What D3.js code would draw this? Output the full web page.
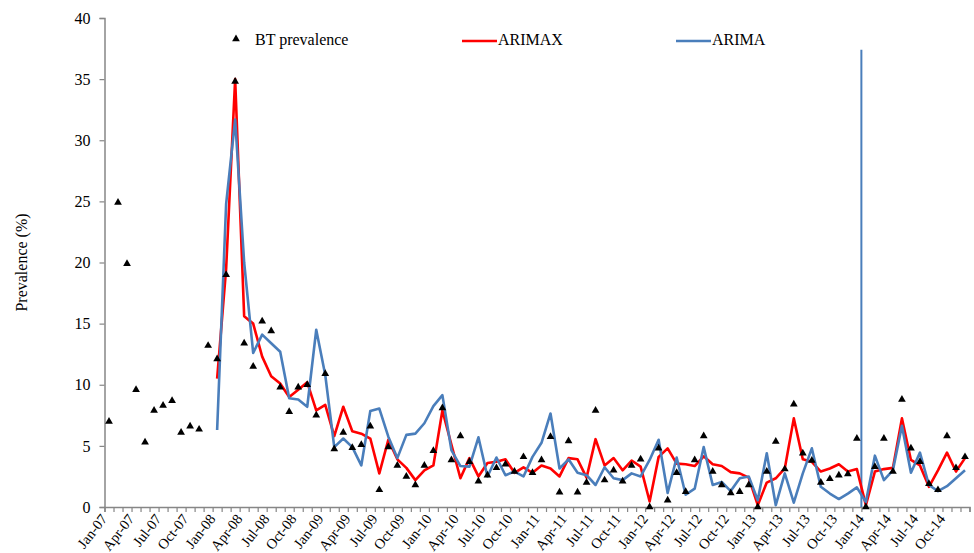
<!DOCTYPE html>
<html>
<head>
<meta charset="utf-8">
<script src="https://cdn.jsdelivr.net/npm/d3@7"></script>
<style>
html,body{margin:0;padding:0;background:#fff;}
svg{display:block;}
text{font-family:"Liberation Serif","Times New Roman",serif;fill:#000;}
</style>
</head>
<body>
<svg id="chart" width="974" height="553"></svg>
<script>
// ---- data ----
const monthNames = ["Jan","Feb","Mar","Apr","May","Jun","Jul","Aug","Sep","Oct","Nov","Dec"];
const years = ["07","08","09","10","11","12","13","14"];
const categories = [];
years.forEach(y => monthNames.forEach(m => categories.push(m + "-" + y)));
const tickLabels = categories.filter((c, i) => i % 3 === 0);

const prevalence = [
  7.0, 24.9, 19.9, 9.6, 5.3, 7.9, 8.3, 8.7, 6.1, 6.6, 6.35, 13.2,
  12.1, 19.0, 34.8, 13.4, 11.5, 15.2, 14.4, 9.8, 7.8, 9.8, 10.0, 7.5,
  10.9, 4.75, 6.1, 4.85, 5.1, 6.6, 1.4, 4.9, 3.4, 2.5, 1.8, 3.4,
  4.6, 8.1, 3.85, 5.8, 3.7, 2.1, 2.6, 3.2, 3.5, 2.9, 4.1, 2.8,
  3.85, 5.75, 1.2, 5.4, 1.2, 2.0, 7.9, 2.2, 3.0, 2.1, 3.4, 3.9,
  0.0, 4.8, 0.55, 2.8, 1.25, 3.85, 5.8, 2.9, 1.8, 1.15, 1.25, 1.8,
  0.0, 2.9, 5.35, 3.1, 8.4, 4.4, 3.8, 2.0, 2.3, 2.6, 2.7, 5.6,
  0.0, 3.3, 5.6, 2.9, 8.8, 4.8, 3.7, 1.9, 1.4, 5.8, 3.2, 4.1
];
const arimax = [
  null, null, null, null, null, null, null, null, null, null, null, null,
  10.5, 19.5, 35.0, 15.6, 15.0, 12.3, 10.7, 10.1, 9.0, 9.6, 10.2, 7.9,
  8.35, 5.8, 8.2, 6.2, 6.0, 5.6, 2.75, 5.5, 3.9, 3.2, 2.2, 3.0,
  3.4, 7.9, 5.1, 2.35, 4.0, 2.5, 3.6, 3.7, 3.9, 2.8, 3.25, 2.8,
  3.4, 3.15, 2.5, 4.0, 3.9, 2.4, 5.55, 3.4, 4.0, 3.0, 3.8, 3.3,
  0.45, 4.1, 4.8, 3.55, 3.5, 3.35, 4.15, 3.5, 3.35, 2.85, 2.75, 2.4,
  0.15, 2.0, 2.35, 3.15, 7.25, 3.9, 3.7, 2.9, 3.15, 3.5, 2.9, 3.1,
  0.15, 2.9, 3.1, 3.2, 7.25, 3.85, 3.4, 1.65, 3.0, 4.45, 2.9, 4.0
];
const arima = [
  null, null, null, null, null, null, null, null, null, null, null, null,
  6.3, 24.8, 31.7, 20.0, 12.6, 14.1, 13.4, 12.7, 8.9, 8.8, 8.2, 14.5,
  10.8, 4.9, 5.6, 4.9, 3.4, 7.85, 8.05, 5.75, 4.0, 5.9, 6.0, 6.85,
  8.25, 9.15, 4.65, 3.35, 3.3, 5.7, 2.5, 4.05, 2.6, 2.9, 2.5, 4.1,
  5.25, 7.65, 3.15, 3.9, 2.8, 2.6, 1.8, 3.25, 2.35, 2.2, 2.75, 2.5,
  3.85, 5.5, 1.15, 4.05, 1.0, 1.5, 4.9, 1.8, 2.05, 1.3, 2.35, 2.5,
  0.55, 4.4, 0.15, 2.75, 0.35, 2.75, 4.8, 1.65, 1.1, 0.65, 1.1, 1.6,
  0.4, 4.2, 2.2, 3.0, 6.65, 2.8, 4.45, 1.8, 1.3, 1.7, 2.35, 3.0
];
const yTicks = [0, 5, 10, 15, 20, 25, 30, 35, 40];
const splitAfter = "Dec-13";   // vertical divider between Dec-13 and Jan-14
const splitTop = 37.4;
const seriesNames = ["BT prevalence", "ARIMAX", "ARIMA"];

// ---- layout ----
const svg = d3.select("#chart");
const x0 = 104.5, x1 = 969.5, yBottom = 507, yTop = 18;
const RED = "#ff0000", BLUE = "#4a7ebb", AXIS = "#868686";

const x = d3.scaleBand().domain(categories).range([x0, x1]).padding(0);
const xc = c => x(c) + x.bandwidth() / 2;
const xIdx = d3.scaleLinear().domain([0, categories.length]).range([x0, x1]);
const y = d3.scaleLinear().domain([0, 40]).range([yBottom, yTop]);

// y axis
const yAxis = svg.append("g").attr("transform", `translate(${x0},0)`)
  .call(d3.axisLeft(y).tickValues(yTicks).tickSize(5).tickPadding(9).tickFormat(d3.format("d")));
yAxis.select(".domain").attr("stroke", AXIS).attr("stroke-width", 1.5);
yAxis.selectAll(".tick line").attr("stroke", AXIS).attr("stroke-width", 1.2);
yAxis.selectAll(".tick text").style("font-family", '"Liberation Serif",serif').style("font-size", "16px").attr("fill", "#000");

// x axis (ticks at category boundaries)
const xAxis = svg.append("g").attr("transform", `translate(0,${yBottom})`)
  .call(d3.axisBottom(xIdx).tickValues(d3.range(categories.length + 1)).tickSize(5).tickFormat(""));
xAxis.select(".domain").attr("stroke", AXIS).attr("stroke-width", 1.5);
xAxis.selectAll(".tick line").attr("stroke", AXIS).attr("stroke-width", 1.2);

// x labels
svg.append("g").selectAll("text").data(tickLabels).join("text")
  .attr("transform", d => `translate(${xc(d) - 1},${yBottom + 12}) rotate(-52)`)
  .attr("text-anchor", "end")
  .style("font-size", "14.5px")
  .text(d => d);

// y title
svg.append("text")
  .attr("transform", `translate(27,${(yTop + yBottom) / 2}) rotate(-90)`)
  .attr("text-anchor", "middle")
  .style("font-size", "16px")
  .text("Prevalence (%)");

// vertical divider
const splitX = x(splitAfter) + x.bandwidth();
svg.append("line")
  .attr("x1", splitX).attr("x2", splitX)
  .attr("y1", y(splitTop)).attr("y2", y(0))
  .attr("stroke", BLUE).attr("stroke-width", 2);

// lines
const line = d3.line()
  .defined(d => d.v !== null)
  .x(d => xc(d.c)).y(d => y(d.v));
const toPts = arr => categories.map((c, i) => ({c, v: arr[i]}));

svg.append("path").datum(toPts(arimax))
  .attr("d", line).attr("fill", "none").attr("stroke", RED)
  .attr("stroke-width", 2.6).attr("stroke-linejoin", "round");
svg.append("path").datum(toPts(arima))
  .attr("d", line).attr("fill", "none").attr("stroke", BLUE)
  .attr("stroke-width", 2.6).attr("stroke-linejoin", "round");

// triangles
const tri = d3.symbol().type(d3.symbolTriangle).size(26);
svg.append("g").selectAll("path").data(toPts(prevalence)).join("path")
  .attr("transform", d => `translate(${xc(d.c)},${y(d.v)})`)
  .attr("d", tri).attr("fill", "#000");

// legend
const lg = svg.append("g");
lg.append("path").attr("transform", "translate(236,39)").attr("d", tri).attr("fill", "#000");
lg.append("text").attr("x", 255).attr("y", 45).style("font-size", "16px").text(seriesNames[0]);
lg.append("line").attr("x1", 462).attr("x2", 497).attr("y1", 41).attr("y2", 41)
  .attr("stroke", RED).attr("stroke-width", 2.6);
lg.append("text").attr("x", 498).attr("y", 45).style("font-size", "16px").text(seriesNames[1]);
lg.append("line").attr("x1", 676).attr("x2", 711).attr("y1", 41).attr("y2", 41)
  .attr("stroke", BLUE).attr("stroke-width", 2.6);
lg.append("text").attr("x", 712).attr("y", 45).style("font-size", "16px").text(seriesNames[2]);
</script>
</body>
</html>
